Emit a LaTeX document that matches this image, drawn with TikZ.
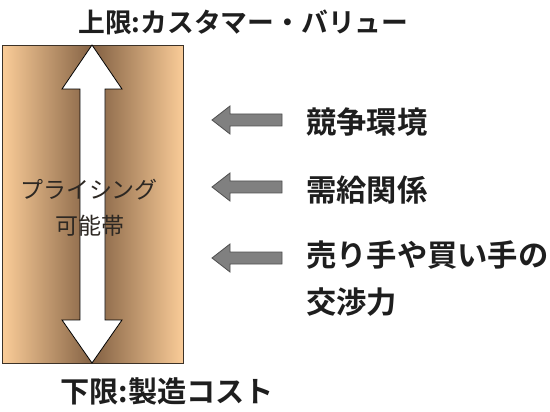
\documentclass[tikz,border=0pt]{standalone}
\usepackage{fontspec}
\newfontfamily\jp{Noto Sans CJK JP}
\newfontfamily\jpb{Noto Sans CJK JP Bold}
\definecolor{bandlight}{RGB}{250,204,152}
\definecolor{banddark}{RGB}{132,98,68}
\definecolor{txt}{RGB}{30,30,30}
\definecolor{garrow}{RGB}{128,128,128}
\definecolor{garrowline}{RGB}{80,80,80}
\tikzset{
  title/.style={font=\jpb\fontsize{26.8}{30}\selectfont, text=txt, anchor=west, inner sep=0pt},
  factor/.style={font=\jpb\fontsize{30.3}{34}\selectfont, text=txt, anchor=west, inner sep=0pt},
  bandtext/.style={font=\jp\fontsize{23}{30}\selectfont, text={rgb,255:red,45;green,40;blue,35}, align=center, inner sep=0pt},
  grayarrow/.style={fill=garrow, draw=garrowline, line width=0.8pt, line join=miter},
}
\begin{document}
\begin{tikzpicture}[x=1pt,y=-1pt]
\useasboundingbox (0,0) rectangle (550,412);
% band
\node[draw={rgb,255:red,60;green,50;blue,40}, line width=0.8pt, left color=bandlight, right color=bandlight, middle color=banddark,
      minimum width=181pt, minimum height=318pt, inner sep=0pt, anchor=north west] (band) at (2,45) {};
% double white arrow
\draw[fill=white, draw=black, line width=0.8pt, line join=miter]
  (92,45) -- (122,89) -- (105,89) -- (105,320) -- (122,320) -- (92,363)
  -- (62,320) -- (80,320) -- (80,89) -- (62,89) -- cycle;
\node[bandtext] (band1) at (89,190) {プライシング};
\node[bandtext] (band2) at (90,226) {可能帯};
% titles
\node[title] (top) at (78,22) {上限:カスタマー・バリュー};
\node[title, font=\jpb\fontsize{29.2}{32}\selectfont] (bottom) at (60,391) {下限:製造コスト};
% gray arrows
\foreach \n/\y in {a/120, b/187, c/258}{
  \draw[grayarrow] (212,\y) -- (230,\y-14) -- (230,\y-6) -- (282,\y-6) -- (282,\y+6) -- (230,\y+6) -- (230,\y+14) -- cycle;
}
% factors
\node[factor] (f1) at (306,122) {競争環境};
\node[factor] (f2) at (306,190) {需給関係};
\node[factor] (f3) at (306,255) {売り手や買い手の};
\node[factor] (f4) at (306,302) {交渉力};
\end{tikzpicture}
\end{document}
